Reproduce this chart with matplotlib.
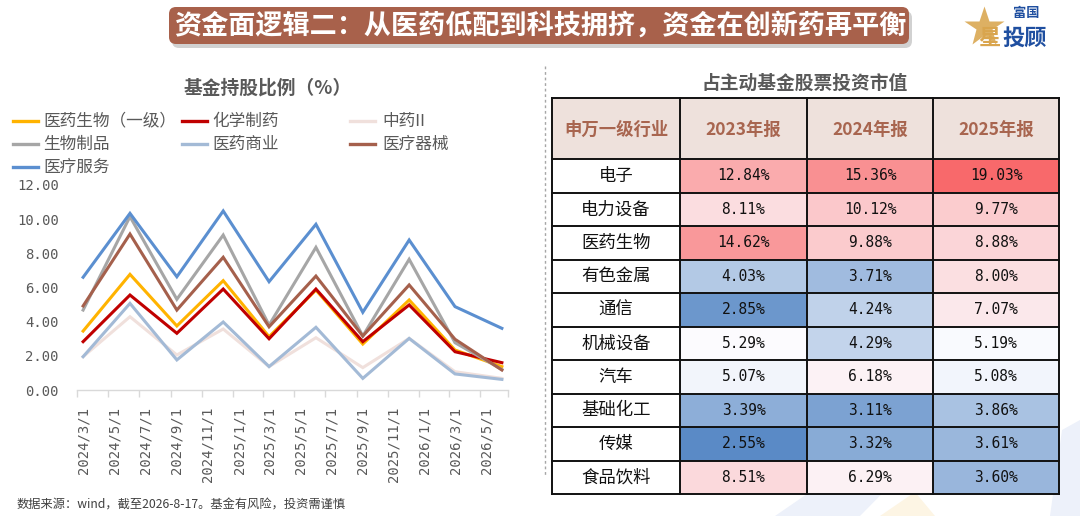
import matplotlib
matplotlib.use("Agg")
import matplotlib.pyplot as plt
import matplotlib.dates as mdates
from matplotlib.patches import Rectangle, FancyBboxPatch, Polygon
from matplotlib.lines import Line2D
import numpy as np
import pandas as pd

plt.rcParams['font.family'] = ['Noto Sans CJK SC', 'DejaVu Sans']

# ---------------- data ----------------
title = "资金面逻辑二：从医药低配到科技拥挤，资金在创新药再平衡"
left_title = "基金持股比例（%）"
right_title = "占主动基金股票投资市值"
footer = "数据来源：wind，截至2026-8-17。基金有风险，投资需谨慎"

dates = ["2024-03-01", "2024-06-01", "2024-09-01", "2024-12-01", "2025-03-01",
         "2025-06-01", "2025-09-01", "2025-12-01", "2026-03-01", "2026-06-01"]
tick_dates = ["2024-03-01", "2024-05-01", "2024-07-01", "2024-09-01", "2024-11-01",
              "2025-01-01", "2025-03-01", "2025-05-01", "2025-07-01", "2025-09-01",
              "2025-11-01", "2026-01-01", "2026-03-01", "2026-05-01"]
tick_labels = ["2024/3/1", "2024/5/1", "2024/7/1", "2024/9/1", "2024/11/1",
               "2025/1/1", "2025/3/1", "2025/5/1", "2025/7/1", "2025/9/1",
               "2025/11/1", "2026/1/1", "2026/3/1", "2026/5/1"]

series_names = ["医药生物（一级）", "化学制药", "中药II", "生物制品", "医药商业", "医疗器械", "医疗服务"]
yiyao_shengwu = [3.45, 6.77, 3.75, 6.40, 3.12, 5.85, 2.69, 5.27, 2.34, 1.37]
huaxue_zhiyao = [2.83, 5.56, 3.32, 5.91, 3.00, 5.91, 2.83, 4.98, 2.24, 1.60]
zhongyao = [1.95, 4.29, 2.05, 3.57, 1.37, 3.06, 1.31, 3.02, 1.07, 0.68]
shengwu_zhipin = [4.68, 10.15, 5.31, 9.07, 3.80, 8.35, 3.16, 7.65, 2.77, 1.20]
yiyao_shangye = [1.95, 5.07, 1.76, 3.98, 1.37, 3.67, 0.68, 3.02, 0.94, 0.62]
yiliao_qixie = [4.92, 9.13, 4.68, 7.77, 3.70, 6.67, 3.16, 6.15, 2.97, 1.17]
yiliao_fuwu = [6.60, 10.34, 6.63, 10.48, 6.34, 9.70, 4.55, 8.78, 4.88, 3.61]
series_values = [yiyao_shengwu, huaxue_zhiyao, zhongyao, shengwu_zhipin,
                 yiyao_shangye, yiliao_qixie, yiliao_fuwu]
series_colors = ["#FFB300", "#C00000", "#F0E0DC", "#A6A6A6", "#A3BAD6", "#A5604C", "#5B8FD0"]

y_ticks = [0, 2, 4, 6, 8, 10, 12]

table_header = ["申万一级行业", "2023年报", "2024年报", "2025年报"]
industries = ["电子", "电力设备", "医药生物", "有色金属", "通信", "机械设备", "汽车", "基础化工", "传媒", "食品饮料"]
report_2023 = [12.84, 8.11, 14.62, 4.03, 2.85, 5.29, 5.07, 3.39, 2.55, 8.51]
report_2024 = [15.36, 10.12, 9.88, 3.71, 4.24, 4.29, 6.18, 3.11, 3.32, 6.29]
report_2025 = [19.03, 9.77, 8.88, 8.00, 7.07, 5.19, 5.08, 3.86, 3.61, 3.60]

# ---------------- figure ----------------
W, H = 1080, 516
fig = plt.figure(figsize=(W / 100, H / 100), dpi=100)
fig.patch.set_facecolor("white")

# overlay axes in pixel coords
ov = fig.add_axes([0, 0, 1, 1])
ov.set_xlim(0, W)
ov.set_ylim(H, 0)
ov.axis("off")
ov.set_zorder(0)

# faint watermark shapes
ov.add_patch(Polygon([[775, 516], [860, 516], [935, 440], [900, 430]], closed=True,
                     facecolor="#EDF1FA", edgecolor="none", zorder=0))
ov.add_patch(Polygon([[880, 516], [935, 516], [915, 492]], closed=True,
                     facecolor="#FDF5E4", edgecolor="none", zorder=0))
ov.add_patch(Polygon([[1062, 430], [1080, 420], [1080, 516], [1050, 516]], closed=True,
                     facecolor="#EDF1FA", edgecolor="none", zorder=0))

# title banner with shadow
ov.add_patch(FancyBboxPatch((172, 11), 740, 37, boxstyle="round,pad=0,rounding_size=7",
                            facecolor="#9A9A9A", edgecolor="none", alpha=0.45, zorder=1))
ov.add_patch(FancyBboxPatch((169, 7), 740, 37, boxstyle="round,pad=0,rounding_size=7",
                            facecolor="#A8614B", edgecolor="none", zorder=2))
ov.text(540, 26, title, color="white", fontsize=19.5, fontweight="bold",
        ha="center", va="center", zorder=3)

# logo
ov.plot([984], [27], marker="*", markersize=30, color="#DDB063", markeredgecolor="none", zorder=3)
ov.text(1013, 13, "富国", color="#1F4FA0", fontsize=9.5, fontweight="bold", ha="left", va="center", zorder=4)
ov.text(978, 38, "星", color="#D9A54E", fontsize=16, fontweight="bold", ha="left", va="center", zorder=4)
ov.text(1002, 38, "投顾", color="#1F4FA0", fontsize=16, fontweight="bold", ha="left", va="center", zorder=4)

# dashed separator
ov.plot([545, 545], [66, 476], color="#A6A6A6", lw=1.0, linestyle=(0, (2, 2)), zorder=1)

# left title and legend
ov.text(268, 88, left_title, color="#595959", fontsize=13.5, fontweight="bold", ha="center", va="center")
leg_cols = [(13, 43), (182, 212), (350, 382)]
leg_rows = [121, 144, 167]
for i, (name, col) in enumerate(zip(series_names, series_colors)):
    r, c = divmod(i, 3)
    lx, tx = leg_cols[c]
    ly = leg_rows[r]
    ov.add_line(Line2D([lx, lx + 25], [ly, ly], color=col, lw=2.4))
    ov.text(tx, ly, name, color="#595959", fontsize=12, ha="left", va="center")

# footer
ov.text(17, 505, footer, color="#404040", fontsize=8.8, ha="left", va="center")

# ---------------- line chart ----------------
ax_l, ax_r, ax_t, ax_b = 77, 508, 185, 390
ax = fig.add_axes([ax_l / W, 1 - ax_b / H, (ax_r - ax_l) / W, (ax_b - ax_t) / H])
ax.set_zorder(2)
ax.patch.set_alpha(0)
xd = pd.to_datetime(dates)
for vals, col in zip(series_values, series_colors):
    ax.plot(xd, vals, color=col, lw=2.2, solid_joinstyle="miter")
pad = pd.Timedelta(days=12)
ax.set_xlim(xd[0] - pad, xd[-1] + pad)
ax.set_ylim(0, 12)
ax.set_yticks(y_ticks)
ax.set_yticklabels([f"{v:.2f}" for v in y_ticks], family="DejaVu Sans Mono", fontsize=10, color="#595959")
td = pd.to_datetime(tick_dates)
ax.set_xticks(td)
ax.set_xticklabels(tick_labels, rotation=90, family="DejaVu Sans Mono", fontsize=10,
                   color="#595959", va="top")
minor = list(td - pad) + [xd[-1] + pad]
ax.set_xticks(minor, minor=True)
ax.tick_params(axis="x", which="major", length=0, pad=12)
ax.tick_params(axis="x", which="minor", length=5, color="#D9D9D9", width=1)
ax.tick_params(axis="y", length=0, pad=13)
for s in ["top", "right", "left"]:
    ax.spines[s].set_visible(False)
ax.spines["bottom"].set_color("#D9D9D9")
ax.spines["bottom"].set_linewidth(1)

# ---------------- table ----------------
ov.text(805, 83, right_title, color="#595959", fontsize=13.5, fontweight="bold", ha="center", va="center")
col_x = [552, 680, 807, 933, 1059]
head_top, head_bot = 98, 159
row_h = 33.5

all_vals = np.array(report_2023 + report_2024 + report_2025)
vmin, vmax, vmid = all_vals.min(), all_vals.max(), np.median(all_vals)
c_low = np.array([0x5A, 0x8A, 0xC6]) / 255
c_mid = np.array([0xFC, 0xFC, 0xFF]) / 255
c_high = np.array([0xF8, 0x69, 0x6B]) / 255


def scale_color(v):
    if v <= vmid:
        t = (vmid - v) / (vmid - vmin)
        return tuple(c_mid + (c_low - c_mid) * t)
    t = (v - vmid) / (vmax - vmid)
    return tuple(c_mid + (c_high - c_mid) * t)


# header
for j, h in enumerate(table_header):
    ov.add_patch(Rectangle((col_x[j], head_top), col_x[j + 1] - col_x[j], head_bot - head_top,
                           facecolor="#EEE1DC", edgecolor="none", zorder=2))
    ov.text((col_x[j] + col_x[j + 1]) / 2, (head_top + head_bot) / 2 + 1, h, color="#A8654F",
            fontsize=12.5, fontweight="bold", ha="center", va="center", zorder=4)

cols = [report_2023, report_2024, report_2025]
for i, name in enumerate(industries):
    y0 = head_bot + i * row_h
    ov.add_patch(Rectangle((col_x[0], y0), col_x[1] - col_x[0], row_h,
                           facecolor="white", edgecolor="none", zorder=2))
    ov.text((col_x[0] + col_x[1]) / 2, y0 + row_h / 2, name, color="#111111",
            fontsize=12.5, ha="center", va="center", zorder=4)
    for j, colvals in enumerate(cols):
        v = colvals[i]
        ov.add_patch(Rectangle((col_x[j + 1], y0), col_x[j + 2] - col_x[j + 1], row_h,
                               facecolor=scale_color(v), edgecolor="none", zorder=2))
        ov.text((col_x[j + 1] + col_x[j + 2]) / 2, y0 + row_h / 2, f"{v:.2f}%", color="#111111",
                family="DejaVu Sans Mono", fontsize=10.5, ha="center", va="center", zorder=4)

# grid lines
tab_bot = head_bot + len(industries) * row_h
for x in col_x:
    ov.plot([x, x], [head_top, tab_bot], color="#111111", lw=1.4, zorder=3, solid_capstyle="projecting")
hlines = [head_top, head_bot] + [head_bot + (i + 1) * row_h for i in range(len(industries))]
for y in hlines:
    ov.plot([col_x[0], col_x[-1]], [y, y], color="#111111", lw=1.4, zorder=3, solid_capstyle="projecting")

fig.savefig("out.png", dpi=100, facecolor="white")
